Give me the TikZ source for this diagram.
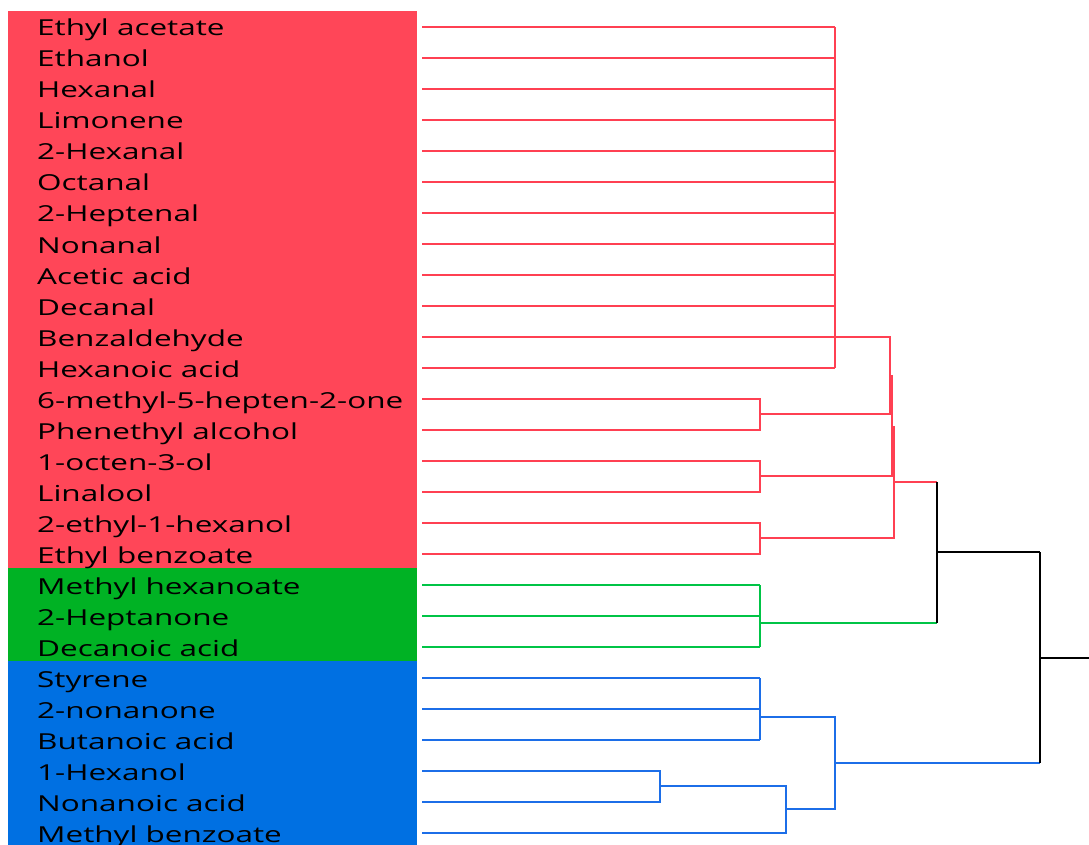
\documentclass[tikz,border=0pt]{standalone}
\usepackage{fontspec}
\setmainfont{Open Sans}[FakeStretch=1.43]
\definecolor{redBox}{RGB}{255,70,88}
\definecolor{greenBox}{RGB}{0,178,36}
\definecolor{blueBox}{RGB}{0,112,226}
\definecolor{redLine}{RGB}{255,64,82}
\definecolor{greenLine}{RGB}{0,196,70}
\definecolor{blueLine}{RGB}{28,110,232}

\begin{document}
\begin{tikzpicture}[x=1pt, y=-1pt,
	leaflabel/.style={anchor=base west, inner sep=0pt, font=\fontsize{22}{24}\selectfont},
	redline/.style={draw=redLine, line width=1.7pt},
	greenline/.style={draw=greenLine, line width=1.7pt},
	blueline/.style={draw=blueLine, line width=1.7pt},
	blackline/.style={draw=black, line width=2.2pt}]

	\def\rowH{31}
	\def\Yzero{27}
	\def\leafX{422}
	\def\textX{37}

	\useasboundingbox (0,0) rectangle (1089,845);

	% Group boxes
	\fill[redBox] (8,11) rectangle (417,568);
	\fill[greenBox] (8,568) rectangle (417,661);
	\fill[blueBox] (8,661) rectangle (417,845);

	% Leaf labels and leaf ends
	\foreach \name [count=\i from 0] in {Ethyl acetate, Ethanol, Hexanal, Limonene,
		2-Hexanal, Octanal, 2-Heptenal, Nonanal, Acetic acid, Decanal, Benzaldehyde,
		Hexanoic acid, 6-methyl-5-hepten-2-one, Phenethyl alcohol, 1-octen-3-ol,
		Linalool, 2-ethyl-1-hexanol, Ethyl benzoate, Methyl hexanoate, 2-Heptanone,
		Decanoic acid, Styrene, 2-nonanone, Butanoic acid, 1-Hexanol, Nonanoic acid,
		Methyl benzoate}
	{
		\node[leaflabel] (l\i) at (\textX, \Yzero + \i*\rowH + 9) {\name};
		\coordinate (e\i) at (\leafX, \Yzero + \i*\rowH);
	}

	% Joints
	\coordinate (jA) at (835, 337);
	\coordinate (jB) at (760, 414);
	\coordinate (jC) at (760, 476);
	\coordinate (jD) at (760, 538);
	\coordinate (jAB) at (890, 376);
	\coordinate (jABC) at (892, 427);
	\coordinate (jRed) at (894, 482);
	\coordinate (jG) at (760, 623);
	\coordinate (jRG) at (937, 552);
	\coordinate (jS) at (760, 717);
	\coordinate (jN) at (660, 786);
	\coordinate (jNM) at (786, 809);
	\coordinate (jBl) at (835, 763);
	\coordinate (jRoot) at (1040, 658);
	\coordinate (rootEnd) at (1089, 658);

	% Red cluster
	\foreach \i in {0,...,11}
		\draw[redline] (e\i) -- (e\i -| jA);
	\draw[redline] (e0 -| jA) -- (e11 -| jA);
	\foreach \i/\j/\k in {12/13/B, 14/15/C, 16/17/D}
	{
		\draw[redline] (e\i) -| (e\j -| j\k) -- (e\j);
	}
	\draw[redline] (jA) -| (jB -| jAB) -- (jB);
	\draw[redline] (jAB) -| (jC -| jABC) -- (jC);
	\draw[redline] (jABC) -| (jD -| jRed) -- (jD);
	\draw[redline] (jRed) -- (jRed -| jRG);

	% Green cluster
	\foreach \i in {18,19,20}
		\draw[greenline] (e\i) -- (e\i -| jG);
	\draw[greenline] (e18 -| jG) -- (e20 -| jG);
	\draw[greenline] (jG) -- (jG -| jRG);

	% Blue cluster
	\foreach \i in {21,22,23}
		\draw[blueline] (e\i) -- (e\i -| jS);
	\draw[blueline] (e21 -| jS) -- (e23 -| jS);
	\draw[blueline] (e24) -| (e25 -| jN) -- (e25);
	\draw[blueline] (jN) -| (e26 -| jNM) -- (e26);
	\draw[blueline] (jS) -| (jNM -| jBl) -- (jNM);
	\draw[blueline] (jBl) -- (jBl -| jRoot);

	% Top links
	\draw[blackline] (jRed -| jRG) -- (jG -| jRG);
	\draw[blackline] (jRG) -- (jRG -| jRoot);
	\draw[blackline] (jRG -| jRoot) -- (jBl -| jRoot);
	\draw[blackline] (jRoot) -- (rootEnd);

\end{tikzpicture}
\end{document}
